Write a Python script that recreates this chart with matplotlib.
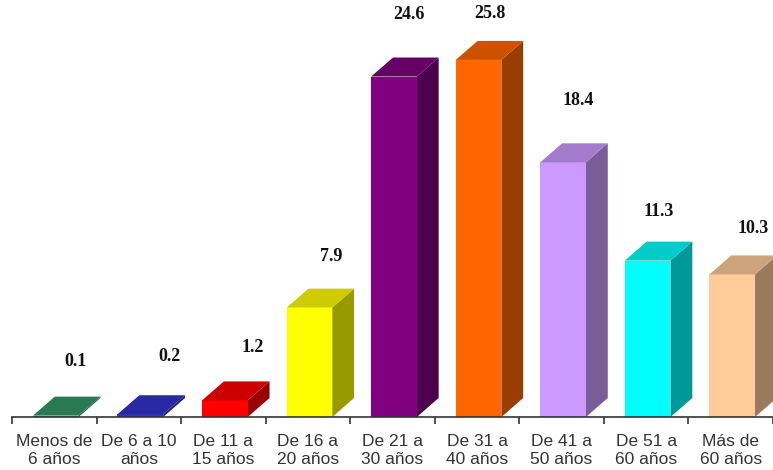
import matplotlib
matplotlib.use("Agg")
import matplotlib.pyplot as plt
from matplotlib.patches import Polygon
from matplotlib.colors import to_rgb

categories = ["Menos de\n6 años", "De 6 a 10\naños", "De 11 a\n15 años", "De 16 a\n20 años",
              "De 21 a\n30 años", "De 31 a\n40 años", "De 41 a\n50 años", "De 51 a\n60 años",
              "Más de\n60 años"]
values = [0.1, 0.2, 1.2, 7.9, 24.6, 25.8, 18.4, 11.3, 10.3]
labels = ["0.1", "0.2", "1.2", "7.9", "24.6", "25.8", "18.4", "11.3", "10.3"]
colors = ["#339966", "#3333CC", "#FF0000", "#FFFF00", "#800080", "#FF6600",
          "#CC99FF", "#00FFFF", "#FFCC99"]
# label offsets in pixels (dx, dy above front top)
label_dx = [15, 22, 21, 17, 12, 9, 12, 9, 16]
label_dy = [54, 58, 53, 51, 62, 46, 62, 49, 46]

W, H = 773, 470
DPI = 100
fig = plt.figure(figsize=(W / DPI, H / DPI), dpi=DPI)
fig.patch.set_facecolor("white")

left_px, base_px = 12, 53      # from left, from bottom
cat_px = 85.2
unit_px = 13.84
ax = fig.add_axes([left_px / W, base_px / H, (W - left_px) / W, (H - base_px) / H])
ax.set_xlim(-0.5, -0.5 + (W - left_px) / cat_px)
ax.set_ylim(0, (H - base_px) / unit_px)

dx = 22 / cat_px
dy = 19 / unit_px
bw = 46 / cat_px
shift = 1.5 / cat_px


def shade(c, f):
    r, g, b = to_rgb(c)
    return (r * f, g * f, b * f)


for i, (v, c) in enumerate(zip(values, colors)):
    x0 = i - bw / 2 + shift
    x1 = x0 + bw
    front = Polygon([(x0, 0), (x1, 0), (x1, v), (x0, v)], closed=True,
                    facecolor=c, edgecolor="none", zorder=3)
    side = Polygon([(x1, 0), (x1 + dx, dy), (x1 + dx, v + dy), (x1, v)], closed=True,
                   facecolor=shade(c, 0.6), edgecolor="none", zorder=2)
    top = Polygon([(x0, v), (x1, v), (x1 + dx, v + dy), (x0 + dx, v + dy)], closed=True,
                  facecolor=shade(c, 0.8), edgecolor="none", zorder=4)
    for p in (side, front, top):
        ax.add_patch(p)
    ax.annotate(labels[i], xy=(i, v), xytext=(label_dx[i], label_dy[i] * 0.72),
                textcoords="offset points", ha="center", va="center",
                fontsize=13, fontweight="bold", family="Liberation Serif",
                color="#111111", zorder=5)

for s in ("left", "right", "top"):
    ax.spines[s].set_visible(False)
ax.spines["bottom"].set_color("#333333")
ax.spines["bottom"].set_linewidth(1.2)
ax.spines["bottom"].set_zorder(6)
ax.set_yticks([])
ax.set_xticks(range(len(categories)))
ax.set_xticklabels(categories, fontsize=12.5, family="Liberation Sans", color="#333333",
                   linespacing=1.25)
ax.tick_params(axis="x", which="major", length=0, pad=12)
ax.set_xticks([i - 0.5 for i in range(len(categories) + 1)], minor=True)
ax.tick_params(axis="x", which="minor", length=5, width=1.2, color="#333333", direction="out")
ax.set_facecolor("white")

fig.savefig("out.png", dpi=DPI, facecolor="white")
